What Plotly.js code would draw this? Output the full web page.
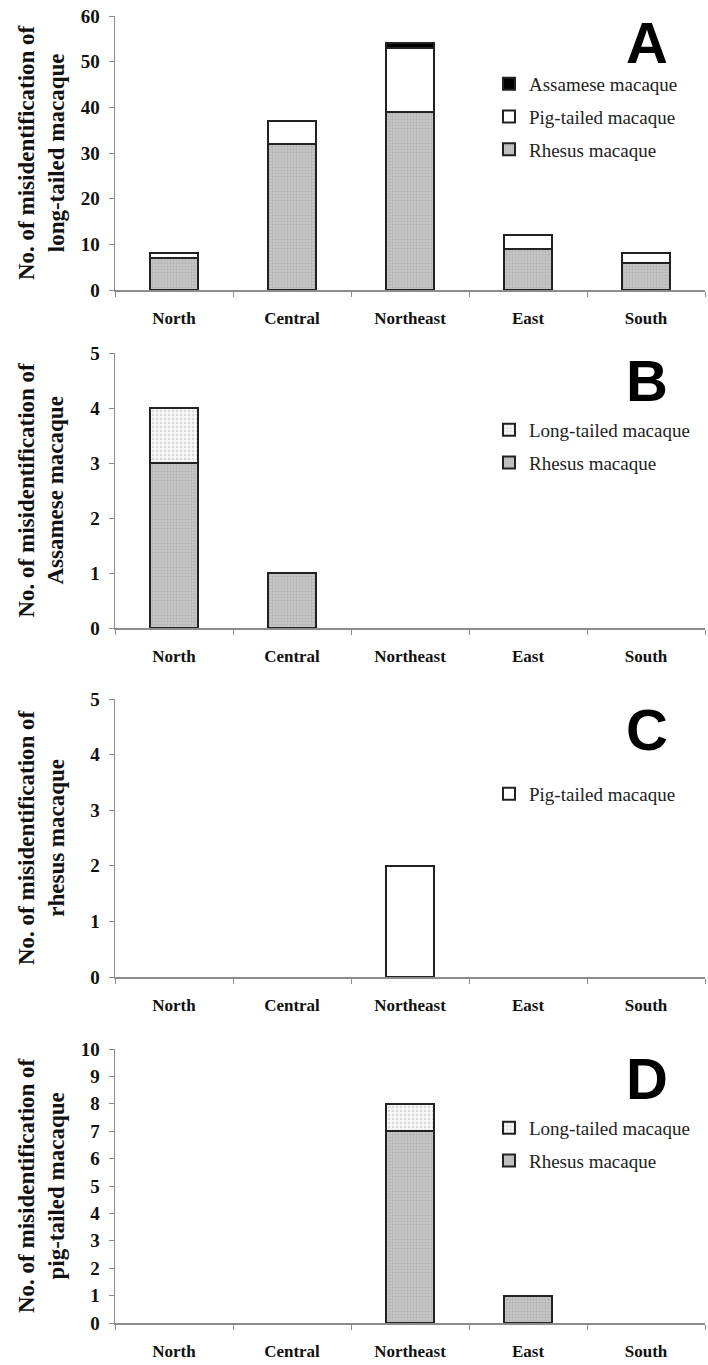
<!DOCTYPE html>
<html>
<head>
<meta charset="utf-8">
<script src="https://cdn.plot.ly/plotly-3.0.1.min.js"></script>
<style>html,body{margin:0;padding:0;background:#fff;}#chart{width:708px;height:1365px;}</style>
</head>
<body>
<div id="chart"></div>
<script>
// ---- data ----
const regions = ["North", "Central", "Northeast", "East", "South"];

// Panel A: misidentification of long-tailed macaque
const A_rhesus   = [7, 32, 39, 9, 6];
const A_pigtail  = [1, 5, 14, 3, 2];
const A_assamese = [0, 0, 1, 0, 0];

// Panel B: misidentification of Assamese macaque
const B_rhesus   = [3, 1, 0, 0, 0];
const B_longtail = [1, 0, 0, 0, 0];

// Panel C: misidentification of rhesus macaque
const C_pigtail  = [0, 0, 2, 0, 0];

// Panel D: misidentification of pig-tailed macaque
const D_rhesus   = [0, 0, 7, 1, 0];
const D_longtail = [0, 0, 1, 0, 0];

const panelLetters = ["A", "B", "C", "D"];
const yTitles = [
  "No. of misidentification of<br>long-tailed macaque",
  "No. of misidentification of<br>Assamese macaque",
  "No. of misidentification of<br>rhesus macaque",
  "No. of misidentification of<br>pig-tailed macaque"
];
const yRanges = [[0, 60], [0, 5], [0, 5], [0, 10]];
const yDticks = [10, 1, 1, 1];

// ---- styles ----
const H = 1365, W = 708;
const serif = "Liberation Serif";
const outline = {color: "#222222", width: 2};
const rhesusMarker = {color: "#c4c4c4", line: outline,
  pattern: {shape: ".", bgcolor: "#c6c6c6", fgcolor: "#b0b0b0", size: 3, solidity: 0.3}};
const pigMarker = {color: "#ffffff", line: outline};
const assamMarker = {color: "#000000", line: outline};
const longMarker = {color: "#f2f2f2", line: outline,
  pattern: {shape: ".", bgcolor: "#f7f7f7", fgcolor: "#d9d9d9", size: 4, solidity: 0.3}};

// pixel layout of the four panels (top, bottom of plot area)
const panelPx = [[16, 290], [353, 628], [699, 977], [1049, 1323]];
const letterPx = [42, 380, 729, 1078];
const legendTopPx = [65, 411, 775, 1109];
const xL = 115 / W, xR = 705 / W;
const py = p => 1 - p / H;

// zero counts have no bar: hide them so no flat outline is drawn
const shown = arr => arr.map(v => (v === 0 ? null : v));

function bar(y, name, marker, axisIdx, legendId, group, rank) {
  const suf = axisIdx === 1 ? "" : String(axisIdx);
  return {
    type: "bar", x: regions, y: shown(y), name: name, marker: marker,
    xaxis: "x" + suf, yaxis: "y" + suf,
    legend: legendId, legendgroup: group, legendrank: rank, hoverinfo: "y+name"
  };
}

const data = [
  bar(A_rhesus, "Rhesus macaque", rhesusMarker, 1, "legend", "a1", 3),
  bar(A_pigtail, "Pig-tailed macaque", pigMarker, 1, "legend", "a2", 2),
  bar(A_assamese, "Assamese macaque", assamMarker, 1, "legend", "a3", 1),
  bar(B_rhesus, "Rhesus macaque", rhesusMarker, 2, "legend2", "b1", 2),
  bar(B_longtail, "Long-tailed macaque", longMarker, 2, "legend2", "b2", 1),
  bar(C_pigtail, "Pig-tailed macaque", pigMarker, 3, "legend3", "c1", 1),
  bar(D_rhesus, "Rhesus macaque", rhesusMarker, 4, "legend4", "d1", 2),
  bar(D_longtail, "Long-tailed macaque", longMarker, 4, "legend4", "d2", 1)
];

const layout = {
  width: W, height: H,
  margin: {l: 0, r: 0, t: 0, b: 0},
  paper_bgcolor: "#fff", plot_bgcolor: "#fff",
  font: {family: serif, color: "#222"},
  barmode: "stack", bargap: 0.59,
  showlegend: true,
  annotations: []
};

for (let i = 0; i < 4; i++) {
  const suf = i === 0 ? "" : String(i + 1);
  const [top, bot] = panelPx[i];
  layout["xaxis" + suf] = {
    domain: [xL, xR], anchor: "y" + suf, type: "category",
    showline: true, linecolor: "#8c8c8c", linewidth: 1.5,
    ticks: "outside", tickson: "boundaries", ticklen: 5, tickcolor: "#8c8c8c", tickwidth: 1,
    tickfont: {family: serif, size: 17, color: "#111", weight: "bold"},
    ticklabelstandoff: 12,
    showgrid: false, zeroline: false, fixedrange: true
  };
  layout["yaxis" + suf] = {
    domain: [py(bot), py(top)], anchor: "x" + suf,
    range: yRanges[i], dtick: yDticks[i], tick0: 0,
    showline: true, linecolor: "#8c8c8c", linewidth: 1.5,
    ticks: "outside", ticklen: 5, tickcolor: "#8c8c8c", tickwidth: 1,
    tickfont: {family: serif, size: 19, color: "#111", weight: "bold"},
    ticklabelstandoff: 5,
    showgrid: false, zeroline: false, fixedrange: true
  };
  const legKey = i === 0 ? "legend" : "legend" + (i + 1);
  layout[legKey] = {
    x: 489 / W, xanchor: "left", y: py(legendTopPx[i]), yanchor: "top",
    bgcolor: "rgba(0,0,0,0)", borderwidth: 0,
    traceorder: "grouped", tracegroupgap: 5,
    font: {family: serif, size: 19, color: "#222", weight: "normal"}
  };
  layout.annotations.push({
    xref: "paper", yref: "paper", x: 41 / W, y: py((top + bot) / 2),
    xanchor: "center", yanchor: "middle", textangle: -90, showarrow: false,
    text: yTitles[i],
    font: {family: serif, size: 23, color: "#111", weight: "bold"}
  });
  layout.annotations.push({
    xref: "paper", yref: "paper", x: 647 / W, y: py(letterPx[i]),
    xanchor: "center", yanchor: "middle", showarrow: false,
    text: panelLetters[i],
    font: {family: "Liberation Sans", size: 58, color: "#000", weight: "bold"}
  });
}

Plotly.newPlot("chart", data, layout, {displayModeBar: false, staticPlot: true});
</script>
</body>
</html>
